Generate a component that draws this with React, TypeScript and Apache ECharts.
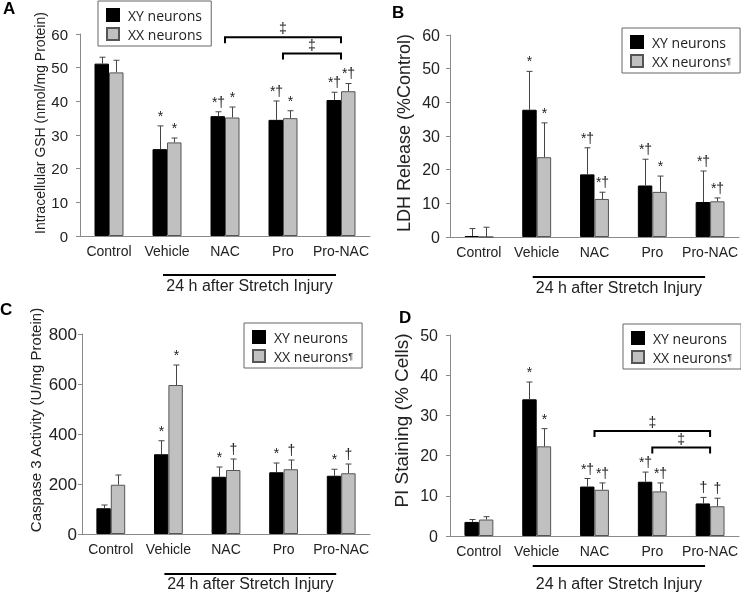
import React, { useEffect, useRef } from 'react';
import * as echarts from 'echarts';

const categories = ['Control', 'Vehicle', 'NAC', 'Pro', 'Pro-NAC'];
const seriesNames = ['XY neurons', 'XX neurons'];
const underText = '24 h after Stretch Injury';

// Panel A – Intracellular GSH
const gshXY = [51.2, 25.8, 35.6, 34.5, 40.4];
const gshXYErr = [53.1, 32.7, 36.9, 40.1, 42.7];
const gshXX = [48.6, 27.8, 35.2, 35.0, 43.0];
const gshXXErr = [52.2, 29.1, 38.3, 37.2, 45.3];
const gshSigXY = ['', '*', '*†', '*†', '*†'];
const gshSigXX = ['', '*', '*', '*', '*†'];
const gshBrackets = [
  { from: 2, to: 4, y: 59.0 },
  { from: 3, to: 4, y: 54.2 },
];

// Panel B – LDH release
const ldhXY = [0.3, 37.8, 18.6, 15.3, 10.4];
const ldhXYErr = [2.5, 49.2, 26.5, 23.1, 19.6];
const ldhXX = [0.0, 23.7, 11.3, 13.4, 10.6];
const ldhXXErr = [2.9, 33.9, 13.3, 18.1, 11.6];
const ldhSigXY = ['', '*', '*†', '*†', '*†'];
const ldhSigXX = ['', '*', '*†', '*', '*†'];

// Panel C – Caspase 3
const casXY = [103, 319, 229, 247, 233];
const casXYErr = [116, 373, 268, 284, 259];
const casXX = [197, 596, 256, 259, 243];
const casXXErr = [236, 676, 300, 296, 280];
const casSigXY = ['', '*', '*', '*', '*'];
const casSigXX = ['', '*', '†', '†', '†'];

// Panel D – PI staining
const piXY = [3.5, 34.0, 12.3, 13.5, 8.1];
const piXYErr = [4.1, 38.3, 14.3, 15.9, 9.6];
const piXX = [4.1, 22.3, 11.5, 11.1, 7.4];
const piXXErr = [4.8, 26.7, 13.2, 13.2, 9.4];
const piSigXY = ['', '*', '*†', '*†', '†'];
const piSigXX = ['', '*', '*†', '*†', '†'];
const piBrackets = [
  { from: 2, to: 4, y: 26.1 },
  { from: 3, to: 4, y: 22.0 },
];

const FONT = '"Liberation Sans", Arial, Helvetica, sans-serif';
const SYM_FONT = '"Liberation Sans", "DejaVu Sans", sans-serif';
const LEGEND_FONT = '"Open Sans", "Noto Sans", sans-serif';
const BAR_FRAC = 0.25;

const panels = [
  {
    letter: 'A', letterPos: [3, 0],
    xy: gshXY, xyErr: gshXYErr, xx: gshXX, xxErr: gshXXErr, sigXY: gshSigXY, sigXX: gshSigXX,
    brackets: gshBrackets,
    grid: { left: 80, top: 34, width: 290, height: 202 },
    yMax: 60, yInterval: 10, yName: 'Intracellular GSH (nmol/mg Protein)', yNameSize: 14, yNameGap: 27, yNameShift: 24,
    yLabelSize: 15, yLabelMargin: 12, lineOff: 39, textOff: 10,
    legend: { left: 98, top: 1 }, pilcrow: false,
  },
  {
    letter: 'B', letterPos: [392, 4],
    xy: ldhXY, xyErr: ldhXYErr, xx: ldhXX, xxErr: ldhXXErr, sigXY: ldhSigXY, sigXX: ldhSigXX,
    brackets: [],
    grid: { left: 450, top: 35, width: 290, height: 202 },
    yMax: 60, yInterval: 10, yName: 'LDH Release (%Control)', yNameSize: 18, yNameGap: 37, yNameShift: 6,
    yLabelSize: 16, yLabelMargin: 10, lineOff: 40, textOff: 10,
    legend: { left: 622, top: 28 }, pilcrow: true,
  },
  {
    letter: 'C', letterPos: [0, 301],
    xy: casXY, xyErr: casXYErr, xx: casXX, xxErr: casXXErr, sigXY: casSigXY, sigXX: casSigXX,
    brackets: [],
    grid: { left: 82, top: 334, width: 288, height: 200 },
    yMax: 800, yInterval: 200, yName: 'Caspase 3 Activity (U/mg Protein)', yNameSize: 15, yNameGap: 39, yNameShift: 28,
    yLabelSize: 17, yLabelMargin: 5, lineOff: 40, textOff: 9,
    legend: { left: 244, top: 323 }, pilcrow: true,
  },
  {
    letter: 'D', letterPos: [399, 309],
    xy: piXY, xyErr: piXYErr, xx: piXX, xxErr: piXXErr, sigXY: piSigXY, sigXX: piSigXX,
    brackets: piBrackets,
    grid: { left: 450, top: 335, width: 290, height: 201 },
    yMax: 50, yInterval: 10, yName: 'PI Staining (% Cells)', yNameSize: 19, yNameGap: 39, yNameShift: 30,
    yLabelSize: 16, yLabelMargin: 12, lineOff: 30, textOff: 17,
    legend: { left: 623, top: 324 }, pilcrow: true,
  },
];

function buildOption() {
  const grid: any[] = [];
  const xAxis: any[] = [];
  const yAxis: any[] = [];
  const series: any[] = [];
  const legend: any[] = [];
  const graphic: any[] = [];

  panels.forEach((p, i) => {
    grid.push({ ...p.grid, containLabel: false });
    xAxis.push({
      type: 'category', gridIndex: i, data: categories,
      axisLine: { lineStyle: { color: '#8a8a8a', width: 1 } },
      axisTick: { length: 4, lineStyle: { color: '#8a8a8a' } },
      axisLabel: { interval: 0, fontFamily: FONT, fontSize: 14, color: '#222', margin: 8 },
      splitLine: { show: false },
    });
    yAxis.push({
      type: 'value', gridIndex: i, min: 0, max: p.yMax, interval: p.yInterval,
      name: p.yName, nameLocation: 'middle', nameRotate: 90, nameGap: p.yNameGap,
      nameTextStyle: { fontFamily: FONT, fontSize: p.yNameSize, color: '#222', padding: [0, 0, 0, p.yNameShift] },
      axisLine: { show: true, lineStyle: { color: '#8a8a8a', width: 1 } },
      axisTick: { show: true, length: 4, lineStyle: { color: '#8a8a8a' } },
      axisLabel: { fontFamily: FONT, fontSize: p.yLabelSize, color: '#222', margin: p.yLabelMargin },
      splitLine: { show: false },
    });

    series.push({
      type: 'bar', name: seriesNames[0], xAxisIndex: i, yAxisIndex: i, data: p.xy,
      barWidth: '25%', barGap: '0%',
      itemStyle: { color: '#000000', borderColor: '#000000', borderWidth: 1 },
    });
    series.push({
      type: 'bar', name: seriesNames[1], xAxisIndex: i, yAxisIndex: i, data: p.xx,
      barWidth: '25%', barGap: '0%',
      itemStyle: { color: '#c0c0c0', borderColor: '#555555', borderWidth: 1 },
    });

    const errData: any[] = [];
    const sig: string[] = [];
    categories.forEach((_, k) => {
      errData.push([k, p.xy[k], p.xyErr[k], -1]);
      sig.push(p.sigXY[k]);
      errData.push([k, p.xx[k], p.xxErr[k], 1]);
      sig.push(p.sigXX[k]);
    });
    series.push({
      type: 'custom', name: 'err' + i, xAxisIndex: i, yAxisIndex: i, clip: false, z: 5,
      encode: { x: 0, y: [1, 2] },
      data: errData,
      renderItem: (params: any, api: any) => {
        const ci = api.value(0);
        const side = api.value(3);
        const band = api.size([1, 0])[0];
        const bw = band * BAR_FRAC;
        const base = api.coord([ci, api.value(1)]);
        const tip = api.coord([ci, api.value(2)]);
        const x = Math.round(base[0] + side * bw / 2) + 0.5;
        const children: any[] = [
          { type: 'line', shape: { x1: x, y1: base[1], x2: x, y2: tip[1] }, style: { stroke: '#444', lineWidth: 1 } },
          { type: 'line', shape: { x1: x - 3, y1: tip[1], x2: x + 3, y2: tip[1] }, style: { stroke: '#444', lineWidth: 1 } },
        ];
        const t = sig[params.dataIndex];
        if (t) {
          children.push({
            type: 'text', x, y: tip[1] - 3,
            style: { text: t, align: 'center', verticalAlign: 'bottom', fontFamily: SYM_FONT, fontSize: 14, fill: '#222' },
          });
        }
        return { type: 'group', children };
      },
    });

    if (p.brackets.length) {
      series.push({
        type: 'custom', name: 'br' + i, xAxisIndex: i, yAxisIndex: i, clip: false, z: 5,
        encode: { x: [0, 1], y: 2 },
        data: p.brackets.map((b) => [b.from, b.to, b.y]),
        renderItem: (params: any, api: any) => {
          const p1 = api.coord([api.value(0), api.value(2)]);
          const p2 = api.coord([api.value(1), api.value(2)]);
          const y = p1[1];
          return {
            type: 'group',
            children: [
              {
                type: 'polyline',
                shape: { points: [[p1[0], y + 6], [p1[0], y], [p2[0], y], [p2[0], y + 6]] },
                style: { stroke: '#000', lineWidth: 2, fill: 'none' },
              },
              {
                type: 'text', x: (p1[0] + p2[0]) / 2, y: y - 2,
                style: { text: '‡', align: 'center', verticalAlign: 'bottom', fontFamily: SYM_FONT, fontSize: 14, fill: '#222' },
              },
            ],
          };
        },
      });
    }

    series.push({
      type: 'custom', name: 'ul' + i, xAxisIndex: i, yAxisIndex: i, clip: false, z: 5,
      encode: { x: 0, y: 1 },
      data: [[0, 0]],
      renderItem: (params: any, api: any) => {
        const a = api.coord([1, 0]);
        const b = api.coord([4, 0]);
        const y = a[1] + p.lineOff;
        const x1 = a[0] - 4;
        const x2 = b[0] - 5;
        return {
          type: 'group',
          children: [
            { type: 'line', shape: { x1, y1: y, x2, y2: y }, style: { stroke: '#000', lineWidth: 2 } },
            {
              type: 'text', x: (x1 + x2) / 2, y: y + p.textOff,
              style: { text: underText, align: 'center', verticalAlign: 'middle', fontFamily: FONT, fontSize: 16, fill: '#222' },
            },
          ],
        };
      },
    });

    legend.push({
      left: p.legend.left, top: p.legend.top, orient: 'vertical',
      data: seriesNames, selectedMode: false,
      itemWidth: 12, itemHeight: 12, itemGap: 5,
      padding: [7, 9, 5, 8],
      borderColor: '#666', borderWidth: 1, backgroundColor: '#fff',
      icon: 'rect',
      formatter: (name: string) => (p.pilcrow && name === 'XX neurons' ? '{n|XX neurons}{p|¶}' : '{n|' + name + '}'),
      textStyle: {
        fontFamily: LEGEND_FONT, fontSize: 14, color: '#222', lineHeight: 14, padding: [0, 0, 0, 4],
        rich: {
          n: { fontFamily: LEGEND_FONT, fontSize: 14, color: '#222', lineHeight: 14 },
          p: { fontFamily: SYM_FONT, fontSize: 9, color: '#222', lineHeight: 14 },
        },
      },
    });

    graphic.push({
      type: 'text', left: p.letterPos[0], top: p.letterPos[1],
      style: { text: p.letter, fontFamily: FONT, fontWeight: 'bold', fontSize: 17, fill: '#000' },
    });
  });

  return {
    animation: false,
    backgroundColor: 'transparent',
    grid, xAxis, yAxis, series, legend, graphic,
  };
}

export default function App() {
  const ref = useRef<HTMLDivElement>(null);
  useEffect(() => {
    if (!ref.current) return;
    const chart = echarts.init(ref.current, null, { renderer: 'svg' });
    chart.setOption(buildOption() as any);
    return () => chart.dispose();
  }, []);
  return (
    <div
      ref={ref}
      style={{ position: 'absolute', left: 0, top: 0, width: 741, height: 593, willChange: 'transform' }}
    />
  );
}
